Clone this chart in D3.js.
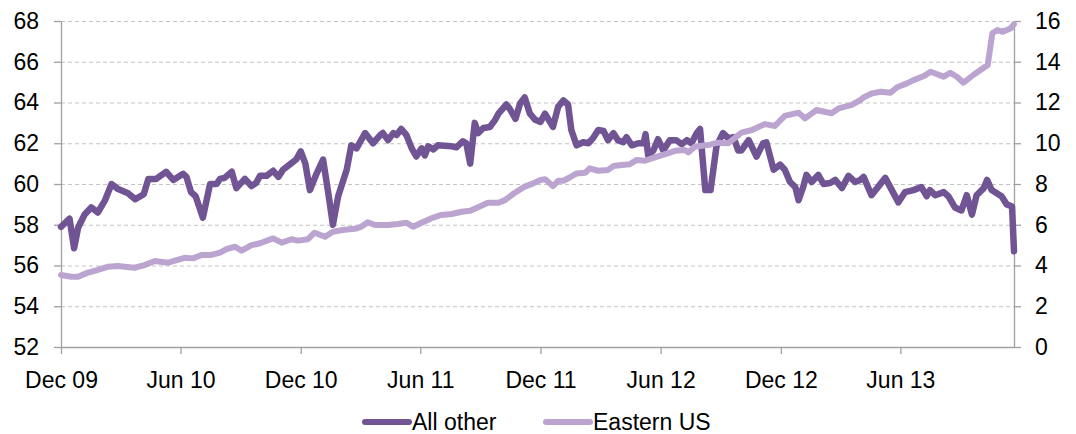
<!DOCTYPE html>
<html>
<head>
<meta charset="utf-8">
<script src="https://cdn.jsdelivr.net/npm/d3@7"></script>
<style>
  body { margin: 0; background: #fff; }
  #my_dataviz { width: 1076px; height: 434px; }
  text { font-family: "Liberation Sans", Arial, sans-serif; }
</style>
</head>
<body>
<div id="my_dataviz"></div>
<script>
// x axis tick labels (every six months)
const tickDates = ["2009-12-01", "2010-06-01", "2010-12-01", "2011-06-01", "2011-12-01", "2012-06-01", "2012-12-01", "2013-06-01"];
const tickLabels = ["Dec 09", "Jun 10", "Dec 10", "Jun 11", "Dec 11", "Jun 12", "Dec 12", "Jun 13"];
const xDomain = ["2009-12-01", "2013-11-21"];

const leftTicks = [52, 54, 56, 58, 60, 62, 64, 66, 68];
const rightTicks = [0, 2, 4, 6, 8, 10, 12, 14, 16];

const seriesNames = ["All other", "Eastern US"];

// All other (left axis)
const otherDates = ["2009-12-01","2009-12-14","2009-12-21","2009-12-27","2010-01-06","2010-01-16","2010-01-26","2010-02-06","2010-02-16","2010-02-26",
  "2010-03-13","2010-03-24","2010-04-06","2010-04-13","2010-04-25","2010-05-10","2010-05-21","2010-06-05","2010-06-10","2010-06-17",
  "2010-06-24","2010-07-05","2010-07-16","2010-07-26","2010-07-31","2010-08-07","2010-08-18","2010-08-25","2010-09-07","2010-09-17",
  "2010-09-24","2010-09-30","2010-10-10","2010-10-20","2010-10-28","2010-11-04","2010-11-14","2010-11-24","2010-12-01","2010-12-08",
  "2010-12-15","2010-12-25","2011-01-04","2011-01-12","2011-01-19","2011-01-27","2011-02-09","2011-02-16","2011-02-24","2011-03-09",
  "2011-03-21","2011-04-01","2011-04-05","2011-04-13","2011-04-21","2011-04-26","2011-05-03","2011-05-11","2011-05-19","2011-05-26",
  "2011-06-03","2011-06-08","2011-06-13","2011-06-21","2011-06-28","2011-07-19","2011-07-26","2011-08-05","2011-08-10","2011-08-16",
  "2011-08-23","2011-08-28","2011-09-05","2011-09-15","2011-09-23","2011-09-28","2011-10-10","2011-10-15","2011-10-24","2011-10-31",
  "2011-11-07","2011-11-15","2011-11-23","2011-12-01","2011-12-08","2011-12-20","2011-12-28","2012-01-05","2012-01-12","2012-01-17",
  "2012-01-25","2012-02-04","2012-02-12","2012-02-19","2012-02-27","2012-03-06","2012-03-13","2012-03-21","2012-03-28","2012-04-05",
  "2012-04-10","2012-04-18","2012-04-28","2012-05-06","2012-05-09","2012-05-13","2012-05-21","2012-05-28","2012-06-05","2012-06-15",
  "2012-06-25","2012-07-03","2012-07-11","2012-07-18","2012-07-26","2012-07-31","2012-08-08","2012-08-16","2012-08-25","2012-09-04",
  "2012-09-12","2012-09-20","2012-09-27","2012-10-02","2012-10-13","2012-10-25","2012-11-04","2012-11-09","2012-11-20","2012-11-30",
  "2012-12-07","2012-12-15","2012-12-23","2012-12-28","2013-01-04","2013-01-09","2013-01-17","2013-01-27","2013-02-04","2013-02-14",
  "2013-02-22","2013-03-04","2013-03-14","2013-03-24","2013-04-01","2013-04-06","2013-04-18","2013-05-09","2013-05-29","2013-06-08",
  "2013-06-21","2013-07-03","2013-07-11","2013-07-16","2013-07-24","2013-08-06","2013-08-13","2013-08-23","2013-09-02","2013-09-10",
  "2013-09-18","2013-09-25","2013-10-06","2013-10-11","2013-10-18","2013-11-02","2013-11-10","2013-11-18","2013-11-21"];
const otherValues = [57.9,58.3,56.85,57.85,58.5,58.85,58.6,59.2,60.0,59.75,
  59.55,59.25,59.5,60.25,60.25,60.6,60.2,60.5,60.35,59.6,
  59.4,58.35,60.0,60.0,60.25,60.3,60.6,59.8,60.25,59.9,
  60.05,60.4,60.4,60.65,60.35,60.7,60.95,61.2,61.6,61.0,
  59.7,60.5,61.2,59.55,58.0,59.4,60.7,61.9,61.75,62.5,
  62.0,62.4,62.5,62.15,62.5,62.4,62.7,62.4,61.75,61.35,
  61.75,61.4,61.85,61.7,61.9,61.85,61.8,62.1,62.0,61.0,
  63.0,62.5,62.75,62.8,63.15,63.45,63.9,63.7,63.2,63.95,
  64.25,63.45,63.15,63.05,63.45,62.8,63.8,64.1,63.9,62.65,
  61.9,62.05,62.0,62.25,62.65,62.6,62.15,62.5,62.15,62.05,
  62.3,61.9,62.0,62.0,62.45,61.4,61.65,62.2,61.65,62.15,
  62.15,61.95,62.15,62.0,62.5,62.7,59.7,59.7,61.85,62.5,
  62.25,62.3,61.65,61.65,62.15,61.35,62.0,62.05,60.7,60.95,
  60.7,60.1,59.85,59.2,59.85,60.45,60.1,60.45,60.0,60.05,
  60.2,59.8,60.4,60.1,60.2,60.35,59.45,60.3,59.1,59.6,
  59.7,59.85,59.4,59.7,59.45,59.6,59.4,58.85,58.7,59.45,
  58.5,59.45,59.8,60.2,59.7,59.4,59.0,58.9,56.7];

// Eastern US (right axis)
const easternDates = ["2009-12-01","2009-12-17","2009-12-27","2010-01-11","2010-01-26","2010-02-11","2010-02-26","2010-03-08","2010-03-23","2010-04-07",
  "2010-04-23","2010-05-13","2010-06-07","2010-06-20","2010-07-03","2010-07-18","2010-07-31","2010-08-10","2010-08-23","2010-09-02",
  "2010-09-17","2010-09-30","2010-10-20","2010-11-02","2010-11-17","2010-11-27","2010-12-12","2010-12-22","2011-01-07","2011-01-19",
  "2011-02-03","2011-02-24","2011-03-03","2011-03-13","2011-03-24","2011-04-13","2011-04-28","2011-05-11","2011-05-21","2011-06-03",
  "2011-06-18","2011-07-03","2011-07-19","2011-08-03","2011-08-16","2011-08-28","2011-09-12","2011-09-28","2011-10-08","2011-10-23",
  "2011-11-07","2011-11-20","2011-12-01","2011-12-08","2011-12-20","2011-12-28","2012-01-05","2012-01-15","2012-01-25","2012-02-07",
  "2012-02-14","2012-02-27","2012-03-13","2012-03-21","2012-04-03","2012-04-15","2012-04-25","2012-05-08","2012-05-23","2012-06-08",
  "2012-06-23","2012-07-08","2012-07-13","2012-07-23","2012-07-31","2012-08-12","2012-08-27","2012-09-12","2012-10-02","2012-10-18",
  "2012-11-07","2012-11-22","2012-12-07","2012-12-28","2013-01-07","2013-01-24","2013-02-16","2013-02-27","2013-03-19","2013-04-01",
  "2013-04-06","2013-04-19","2013-05-02","2013-05-17","2013-05-27","2013-06-11","2013-06-21","2013-07-07","2013-07-17","2013-08-06",
  "2013-08-16","2013-08-27","2013-09-05","2013-09-20","2013-10-12","2013-10-19","2013-10-27","2013-11-04","2013-11-16","2013-11-21"];
const easternValues = [3.53,3.45,3.45,3.65,3.78,3.94,3.98,3.94,3.89,4.02,
  4.22,4.14,4.38,4.35,4.52,4.52,4.63,4.8,4.92,4.73,
  5.0,5.09,5.33,5.12,5.29,5.22,5.29,5.61,5.41,5.66,
  5.74,5.82,5.9,6.12,5.99,5.99,6.04,6.1,5.9,6.1,
  6.32,6.48,6.53,6.64,6.69,6.86,7.08,7.08,7.21,7.57,
  7.87,8.03,8.2,8.23,7.9,8.16,8.16,8.33,8.52,8.55,
  8.77,8.65,8.69,8.88,8.93,8.97,9.18,9.14,9.31,9.47,
  9.63,9.67,9.55,9.83,9.87,9.91,10.03,10.0,10.52,10.65,
  10.94,10.85,11.34,11.5,11.22,11.63,11.47,11.71,11.88,12.12,
  12.25,12.45,12.53,12.48,12.75,12.94,13.1,13.3,13.51,13.27,
  13.46,13.24,12.97,13.35,13.84,15.4,15.56,15.47,15.64,15.85];

const colors = ["#705494", "#bca4d1"];

const width = 1076, height = 434;
const margin = { left: 61, right: 62, top: 21, bottom: 87 };
const parse = d3.timeParse("%Y-%m-%d");

const svg = d3.select("#my_dataviz")
  .append("svg")
  .attr("width", width)
  .attr("height", height);

const x = d3.scaleTime()
  .domain(xDomain.map(parse))
  .range([margin.left, width - margin.right]);

const yLeft = d3.scaleLinear()
  .domain([52, 68])
  .range([height - margin.bottom, margin.top]);

const yRight = d3.scaleLinear()
  .domain([0, 16])
  .range([height - margin.bottom, margin.top]);

// dashed gridlines
svg.append("g")
  .selectAll("line")
  .data(leftTicks.slice(1))
  .join("line")
  .attr("x1", margin.left)
  .attr("x2", width - margin.right)
  .attr("y1", d => yLeft(d) + 0.5)
  .attr("y2", d => yLeft(d) + 0.5)
  .style("stroke", "#c3c3c3")
  .style("stroke-width", 1)
  .style("stroke-dasharray", "4,3");

// axes
function styleAxis(g) {
  g.selectAll("path.domain, line").style("stroke", "#a0a0a0").style("stroke-width", 1.3);
  g.selectAll("text").style("font-size", "23px").style("fill", "#000")
    .style("font-family", "'Liberation Sans', Arial, sans-serif");
}

svg.append("g")
  .attr("transform", `translate(${margin.left},0)`)
  .call(d3.axisLeft(yLeft).tickValues(leftTicks).tickSize(7).tickSizeOuter(0).tickPadding(15))
  .call(styleAxis);

svg.append("g")
  .attr("transform", `translate(${width - margin.right},0)`)
  .call(d3.axisRight(yRight).tickValues(rightTicks).tickSize(7).tickSizeOuter(0).tickPadding(14))
  .call(styleAxis);

svg.append("g")
  .attr("transform", `translate(0,${height - margin.bottom})`)
  .call(d3.axisBottom(x)
    .tickValues(tickDates.map(parse))
    .tickFormat((d, i) => tickLabels[i])
    .tickSize(7).tickSizeOuter(0).tickPadding(18))
  .call(styleAxis);

// lines
const otherData = otherDates.map((d, i) => ({ date: parse(d), value: otherValues[i] }));
const easternData = easternDates.map((d, i) => ({ date: parse(d), value: easternValues[i] }));

svg.append("path")
  .datum(otherData)
  .attr("d", d3.line().x(d => x(d.date)).y(d => yLeft(d.value)))
  .style("fill", "none")
  .style("stroke", colors[0])
  .style("stroke-width", 6.5)
  .style("stroke-linejoin", "round")
  .style("stroke-linecap", "round");

svg.append("path")
  .datum(easternData)
  .attr("d", d3.line().x(d => x(d.date)).y(d => yRight(d.value)))
  .style("fill", "none")
  .style("stroke", colors[1])
  .style("stroke-width", 6)
  .style("stroke-linejoin", "round")
  .style("stroke-linecap", "round");

// legend
const legendX = [365, 546];
const legend = svg.append("g")
  .selectAll("g")
  .data(seriesNames)
  .join("g")
  .attr("transform", (d, i) => `translate(${legendX[i]},422)`);

legend.append("line")
  .attr("x1", 0).attr("x2", 44)
  .style("stroke", (d, i) => colors[i])
  .style("stroke-width", 6)
  .style("stroke-linecap", "round");

legend.append("text")
  .attr("x", 47)
  .attr("dy", "0.35em")
  .style("font-size", "23px")
  .style("fill", "#000")
  .text(d => d);
</script>
</body>
</html>
